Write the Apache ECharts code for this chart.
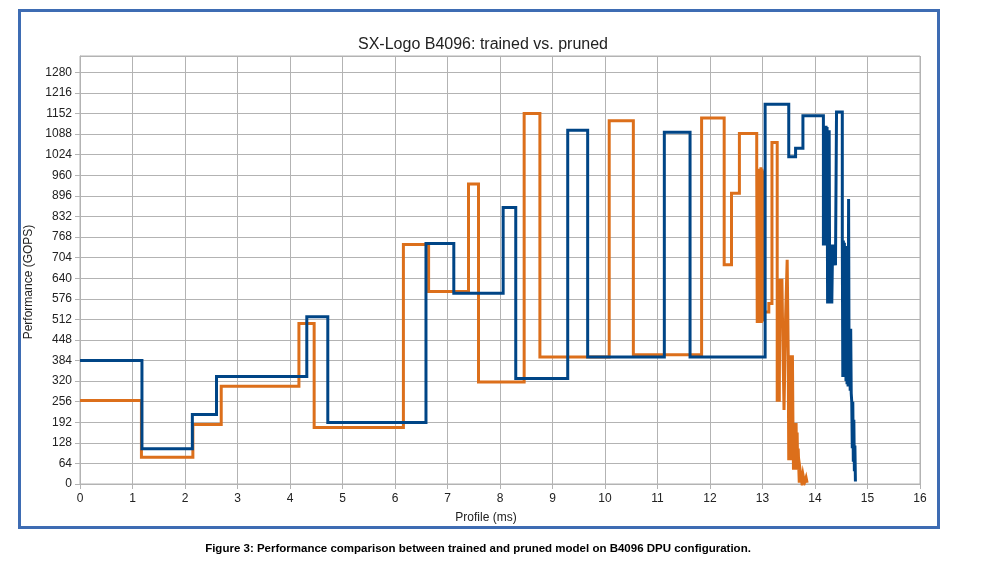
<!DOCTYPE html>
<html>
<head>
<meta charset="utf-8">
<script src="https://cdn.jsdelivr.net/npm/echarts@6/dist/echarts.min.js"></script>
<style>
html,body{margin:0;padding:0;background:#fff;}
#chart{width:999px;height:561px;}
</style>
</head>
<body>
<div id="chart"></div>
<script>
const chartTitle = 'SX-Logo B4096: trained vs. pruned';
const caption = 'Figure 3: Performance comparison between trained and pruned model on B4096 DPU configuration.';
const xAxisName = 'Profile (ms)';
const yAxisName = 'Performance (GOPS)';
const seriesNames = ['trained', 'pruned'];

// trained model (blue) — step profile: time (ms) where each level begins
const trainedTime = [0, 1.18, 2.14, 2.60, 4.32, 4.72, 6.59, 7.12, 8.06, 8.30, 9.29, 9.67, 11.13, 11.62, 13.05, 13.50, 13.63, 13.77,
  14.16, 14.17, 14.18, 14.19, 14.20, 14.21, 14.22, 14.23, 14.24, 14.25, 14.26, 14.27, 14.28, 14.29, 14.30, 14.31, 14.32, 14.33,
  14.345, 14.36, 14.375, 14.39, 14.41,
  14.52, 14.53, 14.54, 14.55, 14.56, 14.57, 14.58, 14.59, 14.60, 14.61, 14.62, 14.63, 14.64, 14.65, 14.66, 14.67, 14.68, 14.69,
  14.70, 14.71, 14.72, 14.73, 14.74, 14.75, 14.76, 14.77, 14.78];
const trainedGops = [384, 110, 216, 334, 520, 191, 748, 593, 860, 328, 1100, 395, 1094, 395, 1181, 1018, 1044, 1145,
  742, 1114, 742, 1114, 742, 1114, 742, 1110, 561, 1100, 561, 1100, 561, 745, 561, 745, 561, 680,
  745, 680, 745, 680, 1157,
  757, 333, 757, 333, 750, 333, 740, 320, 720, 310, 700, 303, 886, 303, 483, 290, 483, 282, 256, 111, 256, 69, 200, 40, 120, 8];

// pruned model (orange)
const prunedTime = [0, 1.17, 2.15, 2.69, 4.17, 4.46, 6.16, 6.64, 7.40, 7.59, 8.46, 8.76, 10.08, 10.54, 11.84, 12.27, 12.41, 12.56,
  12.89, 12.90, 12.91, 12.92, 12.93, 12.94, 12.95, 12.96, 12.97, 12.98, 12.99, 13.00, 13.01, 13.02, 13.12, 13.18,
  13.28, 13.29, 13.30, 13.31, 13.32, 13.33, 13.34, 13.35, 13.36, 13.37, 13.38, 13.41, 13.44, 13.47, 13.49, 13.50, 13.51, 13.52,
  13.53, 13.54, 13.55, 13.56, 13.57, 13.58, 13.59, 13.60, 13.61, 13.62, 13.63, 13.64, 13.65, 13.66, 13.67, 13.68, 13.70,
  13.72, 13.75, 13.77, 13.80, 13.83, 13.85];
const prunedGops = [260, 83, 185, 304, 499, 176, 745, 599, 933, 317, 1152, 395, 1130, 402, 1138, 682, 904, 1090,
  980, 501, 980, 501, 975, 505, 980, 501, 985, 501, 980, 505, 975, 535, 561, 1062,
  256, 638, 260, 638, 256, 638, 519, 638, 519, 638, 519, 230, 519, 697, 400, 74, 400, 74, 400,
  90, 400, 74, 400, 190, 44, 190, 44, 190, 44, 190, 44, 160, 44, 110, 4,
  40, 4, 30, 4, 20, 4];

const zip = (xs, ys) => xs.map((x, i) => [x, ys[i]]);

const chart = echarts.init(document.getElementById('chart'), null, {renderer: 'canvas'});
const font = 'Liberation Sans, Arial, sans-serif';
const gridColor = '#b3b3b3';

chart.setOption({
  animation: false,
  backgroundColor: '#ffffff',
  title: {
    text: chartTitle,
    left: 478, top: 32, textAlign: 'center',
    textStyle: {fontFamily: font, fontSize: 16, fontWeight: 'normal', color: '#222'}
  },
  grid: {left: 80, right: 79, top: 56, bottom: 77, show: true, borderColor: gridColor, borderWidth: 1},
  xAxis: {
    type: 'value', min: 0, max: 16, interval: 1,
    name: xAxisName, nameLocation: 'middle', nameGap: 28,
    nameTextStyle: {fontFamily: font, fontSize: 12, color: '#222', padding: [0, 28, 0, 0]},
    axisLine: {show: true, lineStyle: {color: gridColor}},
    axisTick: {show: true, length: 5, lineStyle: {color: gridColor}},
    axisLabel: {fontFamily: font, fontSize: 12, color: '#222', margin: 9, formatter: v => String(v)},
    splitLine: {show: true, lineStyle: {color: gridColor, width: 1}}
  },
  yAxis: {
    type: 'value', min: 0, max: 1331, interval: 64,
    name: yAxisName, nameLocation: 'middle', nameGap: 41, nameRotate: 90,
    nameTextStyle: {fontFamily: font, fontSize: 12, color: '#222', padding: [0, 24, 0, 0], align: 'center'},
    axisLine: {show: true, lineStyle: {color: gridColor}},
    axisTick: {show: true, length: 5, lineStyle: {color: gridColor}},
    axisLabel: {fontFamily: font, fontSize: 12, color: '#222', margin: 8, showMaxLabel: false, formatter: v => String(v)},
    splitLine: {show: true, lineStyle: {color: gridColor, width: 1}}
  },
  series: [
    {
      name: seriesNames[1], type: 'line', step: 'end', showSymbol: false, symbol: 'none',
      data: zip(prunedTime, prunedGops),
      lineStyle: {color: '#dc6f1b', width: 3, join: 'miter'}, itemStyle: {color: '#dc6f1b'}
    },
    {
      name: seriesNames[0], type: 'line', step: 'end', showSymbol: false, symbol: 'none',
      data: zip(trainedTime, trainedGops),
      lineStyle: {color: '#004586', width: 3, join: 'miter'}, itemStyle: {color: '#004586'}
    }
  ],
  graphic: [
    {
      type: 'rect', silent: true, z: -1,
      shape: {x: 19.5, y: 10.5, width: 919, height: 517},
      style: {fill: 'none', stroke: '#3e6cb3', lineWidth: 3}
    },
    {
      type: 'text', silent: true,
      x: 478, y: 549,
      style: {text: caption, font: 'bold 11.5px Liberation Sans, Arial, sans-serif', fill: '#000', align: 'center', verticalAlign: 'middle'}
    }
  ]
});
</script>
</body>
</html>
